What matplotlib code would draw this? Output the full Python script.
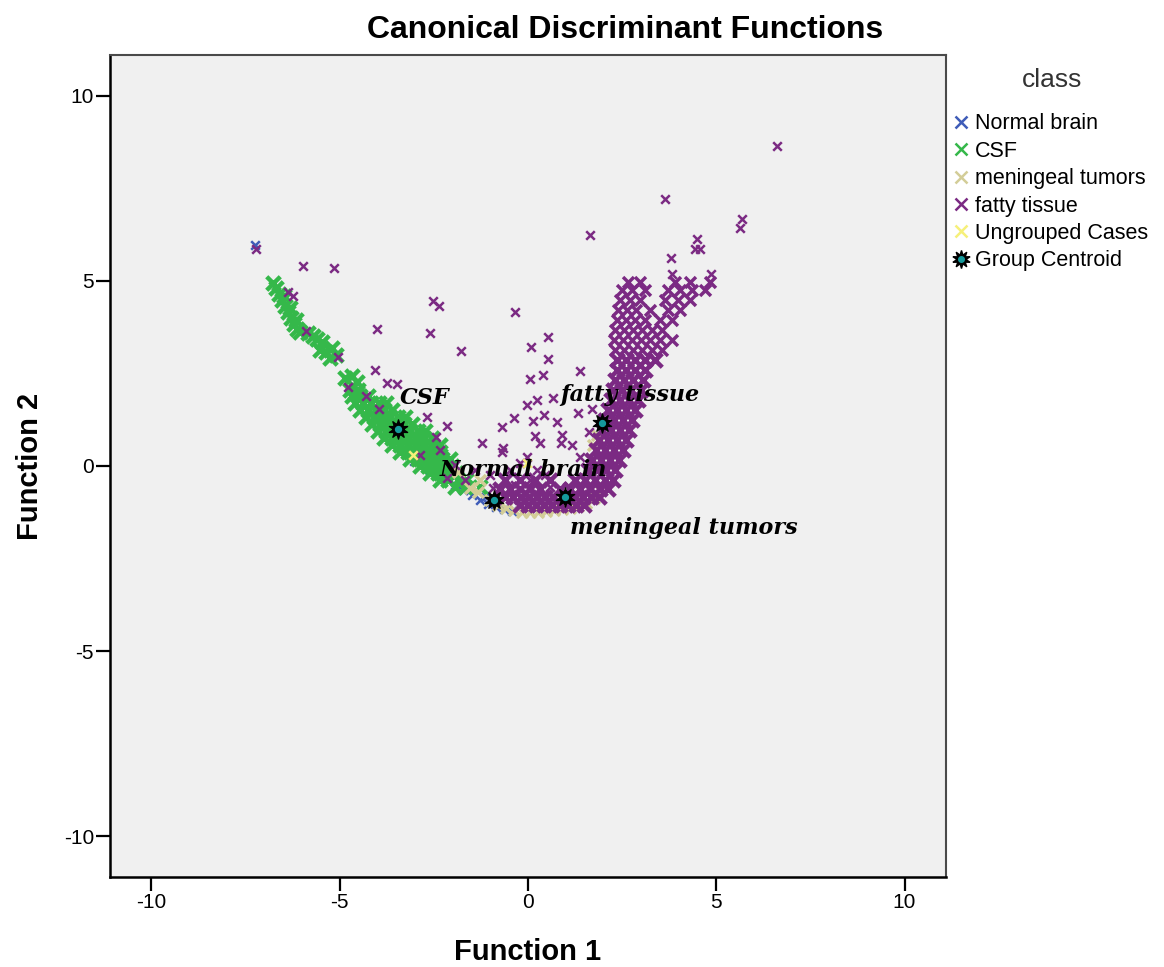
import numpy as np
import matplotlib
matplotlib.use('Agg')
import matplotlib.pyplot as plt
from matplotlib.lines import Line2D
from matplotlib.legend_handler import HandlerTuple

plt.rcParams['font.family'] = ['Liberation Sans', 'DejaVu Sans']

# ---- data ----
class_names = ['Normal brain', 'CSF', 'meningeal tumors', 'fatty tissue', 'Ungrouped Cases']
class_colors = ['#3f5cb8', '#35b84a', '#d3cd98', '#7b2a83', '#f6f07a']

normal_x = [-7.26, -3.03, -2.61, -2.21, -1.94, -1.73, -1.49, -1.28, -1.06, -0.85, -0.64, -0.43,
            -1.54, -1.14, -2.79]
normal_y = [5.96, 0.13, -0.11, -0.32, -0.51, -0.65, -0.78, -0.92, -1.02, -1.11, -1.16, -1.21,
            -0.65, -0.84, 0.62]

# CSF: dense band cases
csf_band_x = [-6.78, -6.70, -6.62, -6.54, -6.46, -6.38, -6.30, -6.22, -6.14, -6.49, -6.33, -6.17, -6.06,
              -5.85, -5.72, -5.59, -5.48, -5.53, -5.37, -5.21, -5.11, -5.27,
              -4.87, -4.68, -4.55,
              -4.73, -4.52,
              -4.68, -4.47, -4.26,
              -4.60, -4.39, -4.18, -3.96, -3.78,
              -4.47, -4.26, -4.04, -3.83, -3.62,
              -4.31, -4.10, -3.88, -3.67, -3.46, -3.27,
              -4.15, -3.94, -3.72, -3.51, -3.30, -3.09,
              -3.99, -3.78, -3.56, -3.35, -3.14, -2.93, -2.74,
              -3.83, -3.62, -3.40, -3.19, -2.98, -2.77, -2.55,
              -3.62, -3.40, -3.19, -2.98, -2.77, -2.55, -2.34,
              -3.40, -3.19, -2.98, -2.77, -2.55, -2.34,
              -3.14, -2.93, -2.71, -2.50, -2.29, -2.07,
              -2.87, -2.66, -2.45, -2.23, -2.02,
              -2.61, -2.39, -2.18, -1.91,
              -2.34, -2.13, -1.86, -1.65,
              -1.94, -1.68, -1.28]
csf_band_y = [4.93, 4.80, 4.64, 4.47, 4.31, 4.15, 3.99, 3.83, 3.69, 4.58, 4.26, 3.94, 3.61,
              3.58, 3.50, 3.42, 3.34, 3.13, 3.07, 3.18, 2.99, 2.91,
              2.37, 2.43, 2.26,
              2.05, 2.05,
              1.89, 1.89, 1.89,
              1.70, 1.70, 1.70, 1.70, 1.70,
              1.51, 1.51, 1.51, 1.51, 1.51,
              1.32, 1.32, 1.32, 1.32, 1.32, 1.32,
              1.13, 1.13, 1.13, 1.13, 1.13, 1.13,
              0.94, 0.94, 0.94, 0.94, 0.94, 0.94, 0.94,
              0.75, 0.75, 0.75, 0.75, 0.75, 0.75, 0.75,
              0.57, 0.57, 0.57, 0.57, 0.57, 0.57, 0.57,
              0.38, 0.38, 0.38, 0.38, 0.38, 0.38,
              0.19, 0.19, 0.19, 0.19, 0.19, 0.19,
              0.00, 0.00, 0.00, 0.00, 0.00,
              -0.19, -0.19, -0.19, -0.19,
              -0.38, -0.38, -0.38, -0.38,
              -0.57, -0.57, -0.57]

mening_x = [-1.54, -1.33, -1.01, -0.80, -0.59, -0.37, -0.16, 0.05, 0.27, 0.48, 0.69, 0.90, 1.12,
            1.33, 1.54, 1.76, 1.91, 2.05, -0.21, 0.21, 0.64, -1.28, -1.86, 1.73, 1.84]
mening_y = [-0.59, -0.70, -0.92, -1.05, -1.13, -1.19, -1.24, -1.24, -1.24, -1.21, -1.19, -1.16, -1.13,
            -1.08, -1.00, -0.86, -0.65, -0.38, -1.05, -1.08, -1.05, -0.38, -0.16, 0.57, 0.84]

# fatty tissue: dense band cases (bottom of the arc and lower right branch)
fatty_band_x = [
    -0.21, 0.00, 0.21, 0.43, 0.64, 0.85, 1.06, 1.28, 1.49,
    -0.61, -0.40, -0.19, 0.03, 0.24, 0.45, 0.66, 1.25, 1.46, 1.68, 1.89,
    -0.74, -0.48, -0.21, 0.05, 0.32, 0.85, 1.12, 1.38, 1.65, 1.91, 2.13,
    -0.61, -0.21, 0.19, 0.59, 1.25, 1.52, 1.78, 2.05, 2.26,
    1.60, 1.84, 2.07, 2.31,
    1.70, 1.94, 2.18, 2.42,
    1.81, 2.05, 2.29, 2.53,
    1.89, 2.13, 2.37, 2.61,
    1.97, 2.21, 2.45, 2.69,
    2.05, 2.29, 2.53, 2.77,
    2.13, 2.37, 2.61, 2.85,
    2.21, 2.45, 2.69, 2.93,
    2.26, 2.50, 2.74, 3.01,
    2.31, 2.55, 2.79, 3.06,
    2.37, 2.61, 2.85, 3.11,
    2.37, 2.61, 2.85, 3.11, 3.38]
fatty_band_y = [
    -1.05, -1.05, -1.05, -1.05, -1.05, -1.05, -1.05, -1.05, -1.05,
    -0.84, -0.84, -0.84, -0.84, -0.84, -0.84, -0.84, -0.84, -0.84, -0.84, -0.84,
    -0.62, -0.62, -0.62, -0.62, -0.62, -0.62, -0.62, -0.62, -0.62, -0.62, -0.62,
    -0.38, -0.38, -0.38, -0.38, -0.38, -0.38, -0.38, -0.38, -0.38,
    -0.11, -0.11, -0.11, -0.11,
    0.16, 0.16, 0.16, 0.16,
    0.43, 0.43, 0.43, 0.43,
    0.70, 0.70, 0.70, 0.70,
    0.97, 0.97, 0.97, 0.97,
    1.24, 1.24, 1.24, 1.24,
    1.51, 1.51, 1.51, 1.51,
    1.78, 1.78, 1.78, 1.78,
    2.05, 2.05, 2.05, 2.05,
    2.32, 2.32, 2.32, 2.32,
    2.59, 2.59, 2.59, 2.59,
    2.86, 2.86, 2.86, 2.86, 2.86]

# fatty tissue: looser upper part of the right branch
fatty_upper_x = [
    2.31, 2.55, 2.79, 3.03, 3.30, 3.56,
    2.29, 2.53, 2.77, 3.01, 3.24, 3.51, 3.83,
    2.31, 2.55, 2.79, 3.03, 3.30, 3.56,
    2.37, 2.61, 2.85, 3.11, 3.51, 3.83,
    2.39, 2.63, 2.87, 3.24, 3.72, 4.04,
    2.45, 2.71, 2.98, 3.64, 3.99, 4.31,
    2.50, 2.77, 3.11, 3.72, 4.04, 4.36, 4.71,
    2.66, 2.98, 3.91, 4.31, 4.84]
fatty_upper_y = [
    3.13, 3.13, 3.13, 3.13, 3.13, 3.13,
    3.40, 3.40, 3.40, 3.40, 3.40, 3.40, 3.40,
    3.67, 3.67, 3.67, 3.67, 3.67, 3.67,
    3.94, 3.94, 3.94, 3.94, 3.94, 3.94,
    4.20, 4.20, 4.20, 4.20, 4.20, 4.20,
    4.47, 4.47, 4.47, 4.47, 4.47, 4.47,
    4.74, 4.74, 4.74, 4.74, 4.74, 4.74, 4.74,
    4.96, 4.96, 4.96, 4.96, 4.96]

# fatty tissue: scattered cases
fatty_x = [
    -7.21, -5.98, -5.16, -6.36, -6.25, -5.90, -5.05, -4.02, -4.07, -3.75, -3.48, -4.79, -4.31,
    -3.96, -2.69, -2.15, -2.45, -2.53, -2.37, -2.61, -1.78, -0.35, 1.65, 0.08, 0.53, 0.53,
    0.40, 0.05, 1.38, -0.03, 0.24, 0.66, 0.43, 0.13, 0.77, -0.37, -0.69, 1.33, 1.70, 1.62,
    0.90, 0.19, 0.32, 0.88, 1.17, -1.22, -0.66, 6.60, 3.64, 5.69, 5.64, 4.49, 4.44, 4.57,
    3.80, 4.87, 3.83, -2.34, -0.69, -0.03, 1.38, 0.24, -0.21, 0.59, -1.94, -2.15, -1.68,
    -1.41, -1.01, -0.48, -0.35, 0.05, 0.45, -0.93, -2.87]
fatty_y = [
    5.85, 5.39, 5.34, 4.69, 4.58, 3.64, 2.94, 3.69, 2.59, 2.24, 2.21, 2.13, 1.89,
    1.54, 1.32, 1.08, 0.78, 4.45, 4.31, 3.58, 3.10, 4.15, 6.23, 3.21, 3.48, 2.88,
    2.45, 2.35, 2.56, 1.64, 1.78, 1.83, 1.37, 1.21, 1.19, 1.29, 1.05, 1.43, 1.54, 0.92,
    0.84, 0.81, 0.62, 0.62, 0.57, 0.62, 0.49, 8.63, 7.22, 6.68, 6.42, 6.12, 5.85, 5.85,
    5.61, 5.18, 5.18, 0.43, 0.38, 0.24, 0.24, -0.11, 0.08, -0.57, 0.03, -0.32, -0.38,
    -0.11, -0.24, -0.11, -0.51, -0.38, -0.24, -0.59, 0.30]

ungrouped_x = [-0.03, -3.06]
ungrouped_y = [0.08, 0.30]

# group centroids
centroid_names = ['CSF', 'Normal brain', 'meningeal tumors', 'fatty tissue']
centroid_x = [-3.46, -0.90, 0.98, 1.97]
centroid_y = [1.00, -0.92, -0.84, 1.16]
label_x = [-3.40, -2.34, 1.12, 0.85]
label_y = [1.83, -0.11, -1.67, 1.91]

ticks = [-10, -5, 0, 5, 10]

# ---- figure ----
fig = plt.figure(figsize=(11.64, 9.67), dpi=100)
ax = fig.add_axes([0.0945, 0.0931, 0.7182, 0.85])
ax.set_facecolor('#f0f0f0')

blue, green, tan, purple, yellow = class_colors
small = dict(marker='x', s=38, linewidths=1.8, zorder=2)
medium = dict(marker='x', s=62, linewidths=2.5, zorder=2)
dense = dict(marker='x', s=95, linewidths=3.2, zorder=2)

ax.scatter(normal_x, normal_y, color=blue, **small)
ax.scatter(csf_band_x, csf_band_y, color=green, **dense)
ax.scatter(mening_x, mening_y, color=tan, **medium)
ax.scatter(fatty_band_x, fatty_band_y, color=purple, **dense)
ax.scatter(fatty_upper_x, fatty_upper_y, color=purple, **medium)
ax.scatter(fatty_x, fatty_y, color=purple, **small)
ax.scatter(ungrouped_x, ungrouped_y, color=yellow, **small)

teal = '#159a9c'
ax.scatter(centroid_x, centroid_y, marker=(10, 1, 0), s=190, color='black', zorder=4)
ax.scatter(centroid_x, centroid_y, marker='o', s=70, color='black', zorder=5)
ax.scatter(centroid_x, centroid_y, marker='o', s=18, color=teal, zorder=6)

for name, lx, ly in zip(centroid_names, label_x, label_y):
    ax.text(lx, ly, name, ha='left', va='center', fontsize=16, fontstyle='italic',
            fontweight='bold', family='DejaVu Serif', color='black', zorder=7)

ax.set_xlim(-11.1, 11.1)
ax.set_ylim(-11.1, 11.1)
ax.set_xticks(ticks)
ax.set_yticks(ticks)
ax.set_xticklabels([str(t) for t in ticks])
ax.set_yticklabels([str(t) for t in ticks])
ax.tick_params(direction='out', length=10, width=1.6, labelsize=15, pad=1.5, colors='black')
for side in ['left', 'bottom']:
    ax.spines[side].set_linewidth(1.8)
    ax.spines[side].set_color('black')
for side in ['top', 'right']:
    ax.spines[side].set_linewidth(1.5)
    ax.spines[side].set_color('#4a4a4a')

ax.set_xlabel('Function 1', fontsize=21, fontweight='bold', labelpad=19)
ax.set_ylabel('Function 2', fontsize=21, fontweight='bold', labelpad=14)
fig.text(0.537, 0.969, 'Canonical Discriminant Functions', ha='center', va='center',
         fontsize=23, fontweight='bold')

# legend
fig.text(1052 / 1164, 1 - 80 / 967, 'class', ha='center', va='center', fontsize=19,
         color='#333333')
handles = [Line2D([], [], ls='none', marker='x', ms=9, mew=1.8, color=c) for c in class_colors]
cent_handle = (Line2D([], [], ls='none', marker=(10, 1, 0), ms=13, color='black'),
               Line2D([], [], ls='none', marker='o', ms=4, color=teal))
handles.append(cent_handle)
labels = class_names + ['Group Centroid']
leg = fig.legend(handles, labels, loc='upper left', bbox_to_anchor=(0.8185, 0.883),
                 frameon=False, fontsize=15.5, borderpad=0,
                 handlelength=0.75, handletextpad=0.3, labelspacing=0.3,
                 borderaxespad=0, handler_map={tuple: HandlerTuple(ndivide=1)})

fig.savefig('out.png', dpi=100)
